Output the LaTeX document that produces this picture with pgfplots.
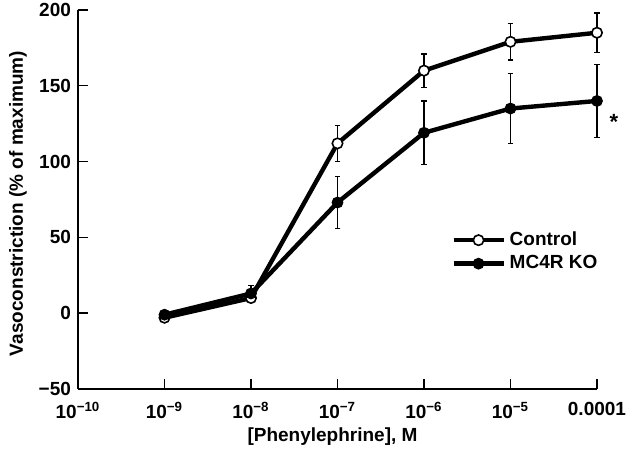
\documentclass[border=0pt]{standalone}
\usepackage{fontspec}
\setmainfont{Liberation Sans}
\usepackage{pgfplots}
\pgfplotsset{compat=1.18}
\newcommand{\ff}{\fontsize{9.5}{11}\selectfont\bfseries}
\begin{document}
\begin{tikzpicture}
\useasboundingbox (-39pt,-32pt) rectangle (275pt,194.5pt);
\begin{axis}[
  at={(0,0)}, anchor=south west,
  scale only axis, width=259.5pt, height=189.5pt,
  clip=false,
  xmode=log, xmin=1e-10, xmax=1e-4, ymin=-50, ymax=200,
  axis lines*=left,
  axis line style={line width=0.7pt},
  tick style={line width=0.7pt, black},
  tick align=inside, major tick length=5pt,
  xminorticks=false,
  xtick={1e-10,1e-9,1e-8,1e-7,1e-6,1e-5,1e-4},
  xticklabels={10\textsuperscript{−10},10\textsuperscript{−9},10\textsuperscript{−8},10\textsuperscript{−7},10\textsuperscript{−6},10\textsuperscript{−5},0.0001},
  ytick={-50,0,50,100,150,200},
  yticklabels={−50,0,50,100,150,200},
  ticklabel style={font=\ff},
  xticklabel style={anchor=north, yshift=-3pt},
  xlabel={[Phenylephrine], M},
  ylabel={Vasoconstriction (\% of maximum)},
  label style={font=\ff},
  xlabel style={at={([xshift=-2.5pt,yshift=-24pt]axis description cs:0.5,0)}, anchor=center},
  ylabel style={at={([xshift=-30pt,yshift=-2pt]axis description cs:0,0.5)}, anchor=center, rotate=0},
  legend style={draw=none, fill=none, font=\ff, at={(0.707,0.437)}, anchor=north west, row sep=-0.5pt},
  legend cell align=left,
  legend image code/.code={\draw[mark repeat=2,mark phase=2,#1] plot coordinates {(0pt,0pt) (12.5pt,0pt) (25pt,0pt)};},
  error bars/error bar style={line width=0.6pt, black},
  error bars/error mark options={rotate=90, mark size=1.4pt, line width=0.6pt, black},
]
\addplot[black, line width=2.2pt, mark=*, mark size=2.6pt, mark options={fill=white, line width=0.8pt},
  error bars/.cd, y dir=both, y explicit]
  table[x=x, y=y, y error=e] {
x y e
1e-9 -3 2
1e-8 10 3
1e-7 112 12
1e-6 160 11
1e-5 179 12
1e-4 185 13
};
\addlegendentry{Control}
\addplot[black, line width=2.2pt, mark=*, mark size=2.7pt, mark options={fill=black, line width=0.5pt},
  error bars/.cd, y dir=both, y explicit]
  table[x=x, y=y, y error=e] {
x y e
1e-9 -1 2
1e-8 13 5
1e-7 73 17
1e-6 119 21
1e-5 135 23
1e-4 140 24
};
\addlegendentry{MC4R KO}
\node[font=\fontsize{11}{12}\selectfont\bfseries] at (axis cs:1e-4,126) [xshift=8.5pt] {*};
\end{axis}
\end{tikzpicture}
\end{document}
